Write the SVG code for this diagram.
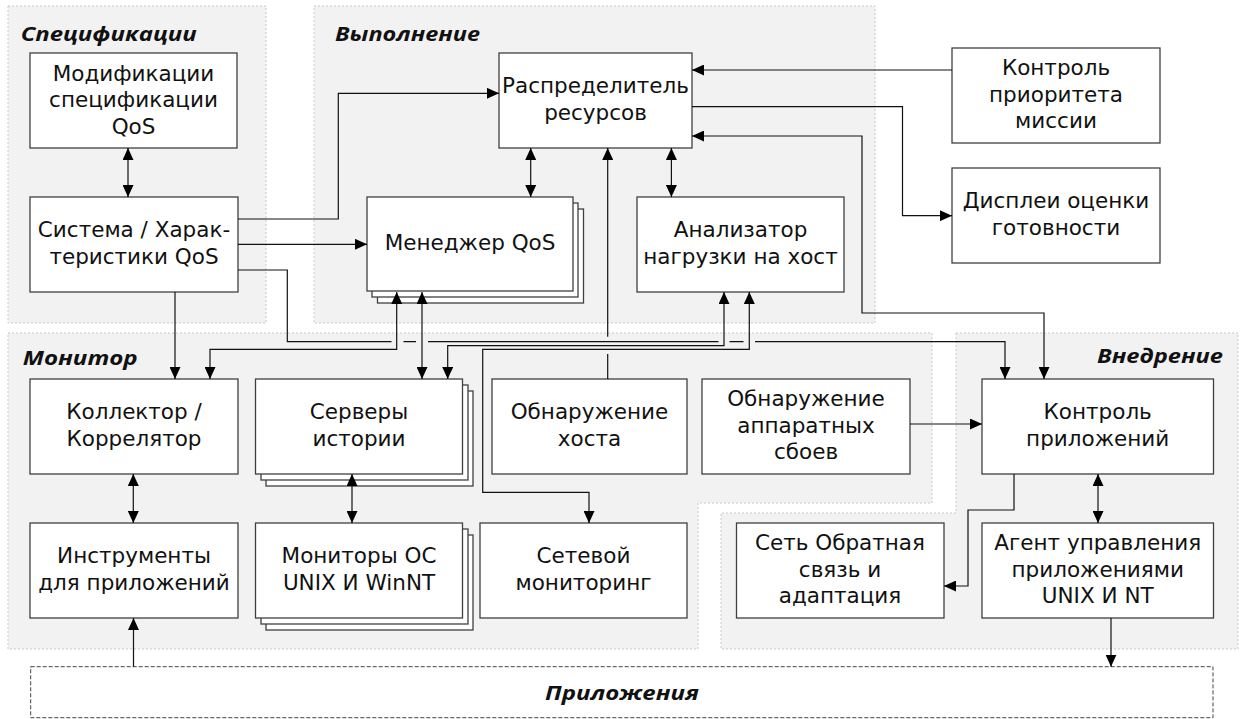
<svg xmlns="http://www.w3.org/2000/svg" width="1242" height="719" viewBox="0 0 1242 719">
<style>
.panel{fill:#f2f2f2;stroke:#c8c8c8;stroke-width:1;stroke-dasharray:2 2}
.box{fill:#fff;stroke:#404040;stroke-width:1.3}
.t{font-family:"DejaVu Sans","Open Sans",sans-serif;font-size:21.5px;fill:#111;text-anchor:middle}
.lbl{font-family:"Open Sans","DejaVu Sans",sans-serif;font-size:20px;font-weight:bold;font-style:italic;fill:#111}
.c{fill:none;stroke:#111;stroke-width:1.2}
.dash{fill:#fff;stroke:#444;stroke-width:1;stroke-dasharray:4 2}
</style>
<defs>
<marker id="a" viewBox="0 0 12 11" markerWidth="12" markerHeight="11" refX="12" refY="5.5" orient="auto-start-reverse" markerUnits="userSpaceOnUse"><path d="M0,0L12,5.5L0,11z" fill="#000"/></marker>
</defs>
<rect width="1242" height="719" fill="#fff"/>
<g id="panels">
<rect class="panel" x="8" y="6" width="258" height="317"/>
<rect class="panel" x="314" y="6" width="561" height="317"/>
<path class="panel" d="M8,333H932V503H698V649H8Z"/>
<path class="panel" d="M956,333H1238V649H721V513H956Z"/>
<text class="lbl" x="20.7" y="40.7" textLength="176" lengthAdjust="spacingAndGlyphs">Спецификации</text>
<text class="lbl" x="335" y="40.7" textLength="145" lengthAdjust="spacingAndGlyphs">Выполнение</text>
<text class="lbl" x="22.7" y="365" textLength="115" lengthAdjust="spacingAndGlyphs">Монитор</text>
<text class="lbl" x="1097" y="363" textLength="126" lengthAdjust="spacingAndGlyphs">Внедрение</text>
</g>
<g id="n-mod"><rect class="box" x="30" y="53" width="207" height="95"/><text class="t" x="133.5" y="80.5">Модификации</text><text class="t" x="133.5" y="107">спецификации</text><text class="t" x="133.5" y="133.5">QoS</text></g>
<g id="n-sys"><rect class="box" x="30" y="197" width="208" height="95"/><text class="t" x="134" y="237.3">Система / Харак-</text><text class="t" x="134" y="263.8">теристики QoS</text></g>
<g id="n-alloc"><rect class="box" x="499" y="53" width="193" height="95"/><text class="t" x="595.5" y="93.3">Распределитель</text><text class="t" x="595.5" y="119.8">ресурсов</text></g>
<g id="n-qosmgr"><rect class="box" x="377.5" y="209" width="206" height="94"/><rect class="box" x="372" y="203" width="206" height="94"/><rect class="box" x="367" y="197" width="206" height="94"/><text class="t" x="470" y="250">Менеджер QoS</text></g>
<g id="n-analyzer"><rect class="box" x="637" y="197" width="207" height="95"/><text class="t" x="740.5" y="237.3">Анализатор</text><text class="t" x="740.5" y="263.8">нагрузки на хост</text></g>
<g id="n-priority"><rect class="box" x="952" y="48" width="208" height="95"/><text class="t" x="1056" y="75">Контроль</text><text class="t" x="1056" y="101.5">приоритета</text><text class="t" x="1056" y="128">миссии</text></g>
<g id="n-displays"><rect class="box" x="952" y="168" width="208" height="95"/><text class="t" x="1056" y="208.3">Дисплеи оценки</text><text class="t" x="1056" y="234.8">готовности</text></g>
<g id="n-collector"><rect class="box" x="30" y="379" width="208" height="95"/><text class="t" x="134" y="419.3">Коллектор /</text><text class="t" x="134" y="445.8">Коррелятор</text></g>
<g id="n-tools"><rect class="box" x="30" y="523" width="208" height="95"/><text class="t" x="134" y="563.3">Инструменты</text><text class="t" x="134" y="589.8">для приложений</text></g>
<g id="n-history"><rect class="box" x="266" y="391" width="207" height="95"/><rect class="box" x="261" y="385" width="207" height="95"/><rect class="box" x="255.5" y="379" width="207" height="95"/><text class="t" x="359" y="419.3">Серверы</text><text class="t" x="359" y="445.8">истории</text></g>
<g id="n-osmon"><rect class="box" x="266" y="535" width="207" height="95"/><rect class="box" x="261" y="529" width="207" height="95"/><rect class="box" x="255.5" y="523" width="207" height="95"/><text class="t" x="359" y="563.3">Мониторы ОС</text><text class="t" x="359" y="589.8">UNIX И WinNT</text></g>
<g id="n-hostdisc"><rect class="box" x="492" y="379" width="195" height="95"/><text class="t" x="589.5" y="419.3">Обнаружение</text><text class="t" x="589.5" y="445.8">хоста</text></g>
<g id="n-hwfail"><rect class="box" x="702" y="379" width="208" height="95"/><text class="t" x="806" y="406">Обнаружение</text><text class="t" x="806" y="432.5">аппаратных</text><text class="t" x="806" y="459">сбоев</text></g>
<g id="n-netmon"><rect class="box" x="480" y="523" width="207" height="95"/><text class="t" x="583.5" y="563.3">Сетевой</text><text class="t" x="583.5" y="589.8">мониторинг</text></g>
<g id="n-netfb"><rect class="box" x="736.5" y="523" width="207.5" height="95"/><text class="t" x="840" y="550">Сеть Обратная</text><text class="t" x="840" y="576.5">связь и</text><text class="t" x="840" y="603">адаптация</text></g>
<g id="n-appctl"><rect class="box" x="982" y="379" width="231.5" height="95"/><text class="t" x="1097.7" y="419.3">Контроль</text><text class="t" x="1097.7" y="445.8">приложений</text></g>
<g id="n-agent"><rect class="box" x="982" y="523" width="231.5" height="95"/><text class="t" x="1097.7" y="550">Агент управления</text><text class="t" x="1097.7" y="576.5">приложениями</text><text class="t" x="1097.7" y="603">UNIX И NT</text></g>
<g id="n-apps"><rect class="dash" x="30.7" y="666.7" width="1182.3" height="51"/><text class="lbl" x="622" y="700" text-anchor="middle" font-size="21" textLength="154" lengthAdjust="spacingAndGlyphs">Приложения</text></g>
<g id="connectors">
<path class="c" d="M128,148V197" marker-start="url(#a)" marker-end="url(#a)"/>
<path class="c" d="M238,219H338.3V93.3H499" marker-end="url(#a)"/>
<path class="c" d="M238,244.3H367" marker-end="url(#a)"/>
<path class="c" d="M238,270H287.3V341.7H391.5M403.5,341.7H416M428,341.7H718.5M729.5,341.7H743.5M755,341.7H1005V379" marker-end="url(#a)"/>
<path class="c" d="M175,292V379" marker-end="url(#a)"/>
<path class="c" d="M210,379V349.3H396.7V292" marker-start="url(#a)" marker-end="url(#a)"/>
<path class="c" d="M422,292V379" marker-start="url(#a)" marker-end="url(#a)"/>
<path class="c" d="M447.7,379V345.7H724V292" marker-start="url(#a)" marker-end="url(#a)"/>
<path class="c" d="M589,523V492.3H482.7V349.3H749.3V292" marker-start="url(#a)" marker-end="url(#a)"/>
<path class="c" d="M607.7,379V354M607.7,336.7V148" marker-end="url(#a)"/>
<path class="c" d="M530.7,148V197" marker-start="url(#a)" marker-end="url(#a)"/>
<path class="c" d="M671.4,148V197" marker-start="url(#a)" marker-end="url(#a)"/>
<path class="c" d="M952,70H692" marker-end="url(#a)"/>
<path class="c" d="M692,106.7H902.5V215.7H952" marker-end="url(#a)"/>
<path class="c" d="M1044,379V313H862V136H692" marker-start="url(#a)" marker-end="url(#a)"/>
<path class="c" d="M910,424H982" marker-end="url(#a)"/>
<path class="c" d="M1014,474V510H968V586H944" marker-end="url(#a)"/>
<path class="c" d="M1098,474V523" marker-start="url(#a)" marker-end="url(#a)"/>
<path class="c" d="M1111,618V666.7" marker-end="url(#a)"/>
<path class="c" d="M133.5,666.7V618" marker-end="url(#a)"/>
<path class="c" d="M133.3,474V523" marker-start="url(#a)" marker-end="url(#a)"/>
<path class="c" d="M352,474V523" marker-start="url(#a)" marker-end="url(#a)"/>
</g>
</svg>
